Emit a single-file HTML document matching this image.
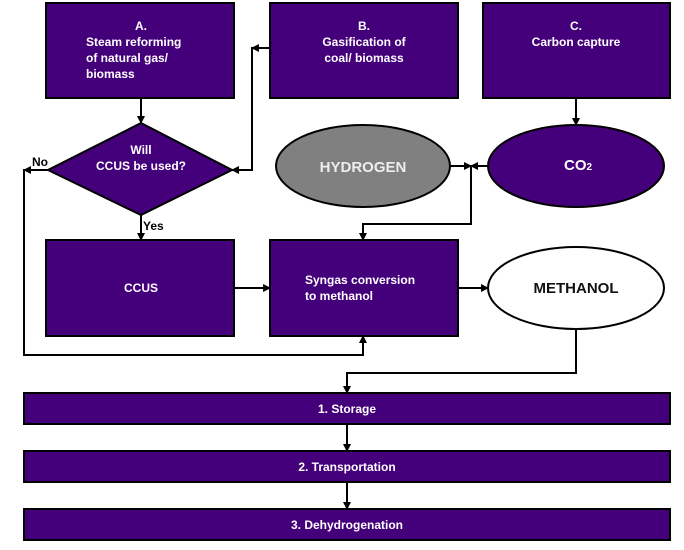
<!DOCTYPE html>
<html><head><style>body{margin:0;background:#fff}svg{display:block}</style></head><body>
<svg width="684" height="550" xmlns="http://www.w3.org/2000/svg" font-family="Liberation Sans, sans-serif" font-weight="bold">
<defs><marker id="a" markerWidth="8" markerHeight="8" refX="7" refY="4" orient="auto" markerUnits="userSpaceOnUse"><path d="M0,0 L8,4 L0,8z" fill="#000"/></marker></defs>
<g fill="#44007a" stroke="#000" stroke-width="2">
<rect x="46" y="3" width="188" height="95"/>
<rect x="270" y="3" width="188" height="95"/>
<rect x="483" y="3" width="187" height="95"/>
<polygon points="141,123 232,170 141,215 48,170"/>
<rect x="46" y="240" width="188" height="96"/>
<rect x="270" y="240" width="188" height="96"/>
<ellipse cx="576" cy="166" rx="88" ry="41"/>
<rect x="24" y="393" width="646" height="31"/>
<rect x="24" y="451" width="646" height="31"/>
<rect x="24" y="509" width="646" height="31"/>
</g>
<ellipse cx="363" cy="166" rx="87" ry="41" fill="#808080" stroke="#000" stroke-width="2"/>
<ellipse cx="576" cy="288" rx="88" ry="41" fill="#fff" stroke="#000" stroke-width="2"/>
<g stroke="#000" stroke-width="2" fill="none">
<path d="M141,98 V123" marker-end="url(#a)"/>
<path d="M270,48 H252 V170 H232" marker-end="url(#a)"/>
<path d="M270,48 H252" marker-end="url(#a)"/>
<path d="M141,215 V240" marker-end="url(#a)"/>
<path d="M48,170 H24 V355 H363 V336" marker-end="url(#a)"/>
<path d="M48,170 H24" marker-end="url(#a)"/>
<path d="M234,288 H270" marker-end="url(#a)"/>
<path d="M458,288 H488" marker-end="url(#a)"/>
<path d="M576,98 V125" marker-end="url(#a)"/>
<path d="M450,166 H471" marker-end="url(#a)"/>
<path d="M488,166 H471" marker-end="url(#a)"/>
<path d="M471,166 V224 H363 V240" marker-end="url(#a)"/>
<path d="M576,329 V373 H347 V393" marker-end="url(#a)"/>
<path d="M347,424 V451" marker-end="url(#a)"/>
<path d="M347,482 V509" marker-end="url(#a)"/>
</g>
<g fill="#fff" font-size="12">
<text x="141" y="30" text-anchor="middle">A.</text>
<text x="86" y="46">Steam reforming</text>
<text x="86" y="62">of natural gas/</text>
<text x="86" y="78">biomass</text>
<text x="364" y="30" text-anchor="middle">B.</text>
<text x="364" y="46" text-anchor="middle">Gasification of</text>
<text x="364" y="62" text-anchor="middle">coal/ biomass</text>
<text x="576" y="30" text-anchor="middle">C.</text>
<text x="576" y="46" text-anchor="middle">Carbon capture</text>
<text x="141" y="154" text-anchor="middle">Will</text>
<text x="141" y="170" text-anchor="middle">CCUS be used?</text>
<text x="141" y="292" text-anchor="middle">CCUS</text>
<text x="305" y="284">Syngas conversion</text>
<text x="305" y="300">to methanol</text>
<text x="347" y="413" text-anchor="middle">1. Storage</text>
<text x="347" y="471" text-anchor="middle">2. Transportation</text>
<text x="347" y="529" text-anchor="middle">3. Dehydrogenation</text>
<text x="363" y="172" text-anchor="middle" font-size="15" fill="#eee">HYDROGEN</text>
<text x="564" y="170" font-size="15">CO<tspan font-size="10">2</tspan></text>
</g>
<text x="576" y="293" text-anchor="middle" font-size="15" fill="#111">METHANOL</text>
<text x="32" y="166" font-size="12" fill="#000">No</text>
<text x="143" y="230" font-size="12" fill="#000">Yes</text>
</svg>
</body></html>
